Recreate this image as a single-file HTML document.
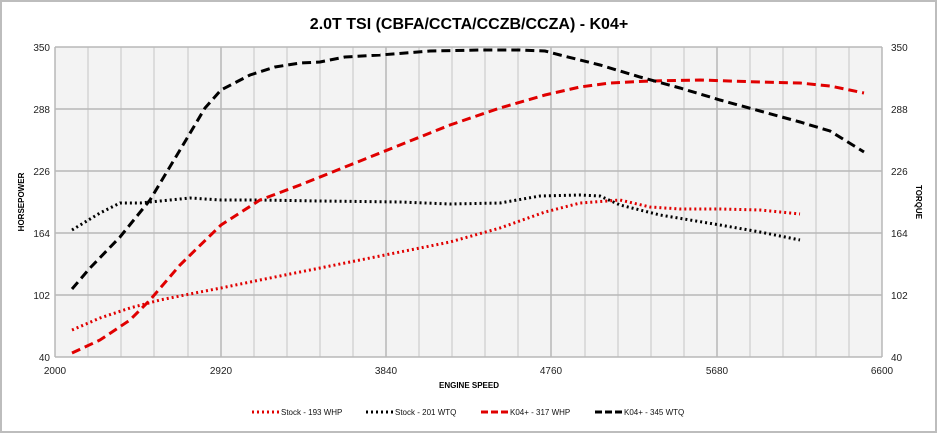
<!DOCTYPE html>
<html><head><style>body{margin:0;background:#fff}svg{display:block}</style></head><body>
<svg width="938" height="434" xmlns="http://www.w3.org/2000/svg" font-family="Liberation Sans, sans-serif">
<rect x="1" y="1" width="935" height="431" fill="#fff" stroke="#bdbdbd" stroke-width="2"/>
<text x="469" y="29" text-anchor="middle" font-size="16" font-weight="bold">2.0T TSI (CBFA/CCTA/CCZB/CCZA) - K04+</text>
<rect x="55" y="47" width="827" height="310" fill="#f3f3f3"/>
<g stroke="#d4d4d4" stroke-width="1.5">
<line x1="88" y1="47" x2="88" y2="357"/><line x1="121" y1="47" x2="121" y2="357"/><line x1="154" y1="47" x2="154" y2="357"/><line x1="188" y1="47" x2="188" y2="357"/>
<line x1="254" y1="47" x2="254" y2="357"/><line x1="287" y1="47" x2="287" y2="357"/><line x1="320" y1="47" x2="320" y2="357"/><line x1="353" y1="47" x2="353" y2="357"/>
<line x1="419" y1="47" x2="419" y2="357"/><line x1="452" y1="47" x2="452" y2="357"/><line x1="485" y1="47" x2="485" y2="357"/><line x1="518" y1="47" x2="518" y2="357"/>
<line x1="585" y1="47" x2="585" y2="357"/><line x1="618" y1="47" x2="618" y2="357"/><line x1="651" y1="47" x2="651" y2="357"/><line x1="684" y1="47" x2="684" y2="357"/>
<line x1="750" y1="47" x2="750" y2="357"/><line x1="783" y1="47" x2="783" y2="357"/><line x1="816" y1="47" x2="816" y2="357"/><line x1="849" y1="47" x2="849" y2="357"/>
</g>
<g stroke="#b8b8b8" stroke-width="1.5">
<line x1="55" y1="47" x2="882" y2="47"/><line x1="55" y1="109" x2="882" y2="109"/><line x1="55" y1="171" x2="882" y2="171"/><line x1="55" y1="233" x2="882" y2="233"/><line x1="55" y1="295" x2="882" y2="295"/>
<line x1="221" y1="47" x2="221" y2="357"/><line x1="386" y1="47" x2="386" y2="357"/><line x1="551" y1="47" x2="551" y2="357"/><line x1="717" y1="47" x2="717" y2="357"/>
<line x1="55" y1="47" x2="55" y2="357"/><line x1="882" y1="47" x2="882" y2="357"/><line x1="55" y1="357" x2="882" y2="357"/>
</g>
<g font-size="10" fill="#222">
<g text-anchor="end"><text x="50" y="51">350</text><text x="50" y="113">288</text><text x="50" y="175">226</text><text x="50" y="237">164</text><text x="50" y="299">102</text><text x="50" y="361">40</text></g>
<g><text x="891" y="51">350</text><text x="891" y="113">288</text><text x="891" y="175">226</text><text x="891" y="237">164</text><text x="891" y="299">102</text><text x="891" y="361">40</text></g>
<g text-anchor="middle"><text x="55" y="374">2000</text><text x="221" y="374">2920</text><text x="386" y="374">3840</text><text x="551" y="374">4760</text><text x="717" y="374">5680</text><text x="882" y="374">6600</text></g>
</g>
<text x="469" y="388" text-anchor="middle" font-size="8" font-weight="bold">ENGINE SPEED</text>
<text transform="translate(24,202) rotate(-90)" text-anchor="middle" font-size="8" font-weight="bold">HORSEPOWER</text>
<text transform="translate(916,202) rotate(90)" text-anchor="middle" font-size="8" font-weight="bold">TORQUE</text>
<g fill="none" stroke-width="3">
<polyline stroke="#e00000" stroke-dasharray="2,3" points="72,330 100,318 130,308 160,300 200,292 221,288 260,280 300,272 350,262 400,252 450,242 500,228 545,212 580,203 620,200 650,207 680,209 720,209 760,210 800,214"/>
<polyline stroke="#000" stroke-dasharray="2,3" points="72,230 100,213 120,203 140,203 190,198 221,200 260,200 320,201 400,202 450,204 500,203 540,196 580,195 600,196 620,205 660,215 720,225 760,232 800,240"/>
<polyline stroke="#e00000" stroke-dasharray="9,5" points="72,353 100,340 130,320 150,300 180,265 221,225 260,200 300,185 350,165 400,145 450,125 500,108 545,95 580,87 610,83 650,81 700,80 760,82 800,83 830,86 864,93"/>
<polyline stroke="#000" stroke-dasharray="9,5" points="72,289 90,268 120,237 150,200 180,150 205,108 221,90 250,75 275,67 300,63 320,62 345,57 380,55 430,51 480,50 520,50 545,51 560,55 600,65 640,77 680,88 720,100 760,111 800,122 830,131 864,152"/>
<line x1="252" y1="412" x2="280" y2="412" stroke="#e00000" stroke-dasharray="2,3"/>
<line x1="366" y1="412" x2="393" y2="412" stroke="#000" stroke-dasharray="2,3"/>
<line x1="481" y1="412" x2="508" y2="412" stroke="#e00000" stroke-dasharray="7,3"/>
<line x1="595" y1="412" x2="622" y2="412" stroke="#000" stroke-dasharray="7,3"/>
</g>
<g font-size="8" fill="#111"><text x="281" y="415">Stock - 193 WHP</text><text x="395" y="415">Stock - 201 WTQ</text><text x="510" y="415">K04+ - 317 WHP</text><text x="624" y="415">K04+ - 345 WTQ</text></g>
</svg>
</body></html>
